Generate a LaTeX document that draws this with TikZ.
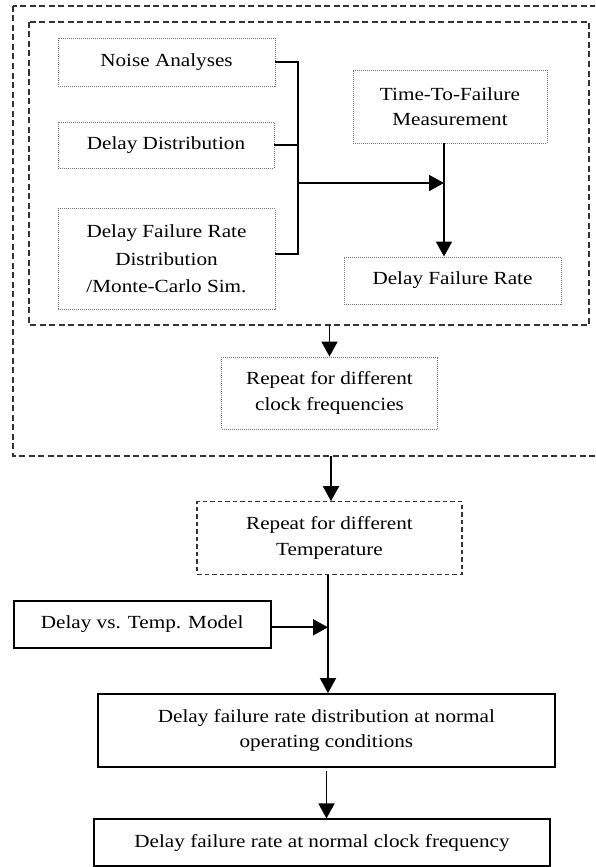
\documentclass[tikz,border=0pt]{standalone}
\usepackage{fontspec}
\setmainfont{Liberation Serif}[FakeStretch=1.145]
\usetikzlibrary{arrows.meta}
\begin{document}
\begin{tikzpicture}[x=1pt,y=-1pt,
  every node/.style={font=\fontsize{18.5}{25.5}\selectfont, align=center, inner sep=0pt},
  dotbox/.style={draw=black!55, line width=0.9pt, dash pattern=on 1pt off 1pt},
  dashbox/.style={draw=black!80, line width=1.3pt, dash pattern=on 6pt off 3.5pt},
  solidbox/.style={draw=black, line width=1.8pt},
  conn/.style={draw=black, line width=1.8pt},
  arr/.style={conn, -{Triangle[length=15pt,width=16pt]}}]
\useasboundingbox (0,0) rectangle (595,867);
\clip (0,0) rectangle (595,867);
\fill[white] (0,0) rectangle (595,867);

% enclosing loops
\draw[dashbox] (13,6) rectangle (605,456);
\draw[dashbox] (29,22) rectangle (589,325);

% analysis inputs
\node[dotbox, minimum width=217pt, minimum height=48pt] (noise) at (166.5,62) {Noise Analyses};
\node[dotbox, minimum width=216pt, minimum height=46pt] (dist) at (166,145) {Delay Distribution};
\node[dotbox, minimum width=217pt, minimum height=101pt, font=\fontsize{18.5}{27.5}\selectfont] (dfr) at (166.5,259) {Delay Failure Rate\\Distribution\\/Monte-Carlo Sim.};
\node[dotbox, minimum width=194pt, minimum height=73pt] (ttf) at (450,106.5) {Time-To-Failure\\Measurement};
\node[dotbox, minimum width=217pt, minimum height=47pt] (rate) at (452.5,280.5) {Delay Failure Rate};
\node[dotbox, minimum width=216pt, minimum height=72pt] (clock) at (329.5,393) {Repeat for different\\clock frequencies};
\node[dashbox, line width=1.1pt, dash pattern=on 4.5pt off 3pt, minimum width=265pt, minimum height=72.5pt] (temp) at (329.5,538) {Repeat for different\\Temperature};
\node[solidbox, minimum width=257pt, minimum height=47pt] (model) at (142.2,624.4) {Delay vs. Temp. Model};
\node[solidbox, minimum width=457pt, minimum height=73pt] (normal) at (326.4,730.5) {Delay failure rate distribution at normal\\operating conditions};
\node[solidbox, minimum width=456.6pt, minimum height=46.7pt] (final) at (322,842.7) {Delay failure rate at normal clock frequency};

% connectors
\coordinate (busx) at (298,0);
\coordinate (join) at (444,183);
\coordinate (innerout) at (329.5,325);
\coordinate (outerout) at (331,456);
\coordinate (merge) at (328,627.3);
\coordinate (lastx) at (326.5,0);

\draw[conn] (noise.east) -| (busx |- 0,254) -- (dfr.east |- 0,254);
\draw[conn, line width=1.4pt] (dist.east) -- (dist.east -| busx);
\draw[arr] (busx |- join) -- (join);
\draw[arr] (ttf.south -| join) -- (rate.north -| join);
\draw[arr] (innerout) -- (clock.north);
\draw[arr] (outerout) -- (outerout |- temp.north);
\draw[conn] (temp.south -| merge) -- (merge);
\draw[arr] (merge) -- (normal.north -| merge);
\draw[arr] (model.east |- merge) -- (merge);
\draw[arr] ([yshift=-3pt]normal.south -| lastx) -- (final.north -| lastx);
\end{tikzpicture}
\end{document}
